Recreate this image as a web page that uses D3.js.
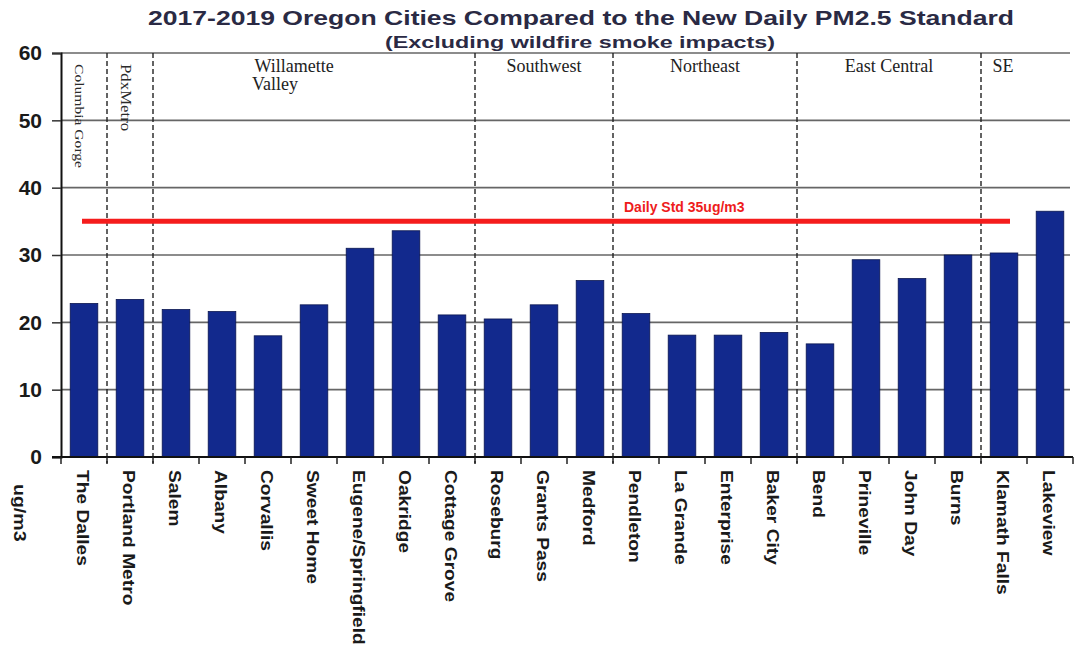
<!DOCTYPE html>
<html>
<head>
<meta charset="utf-8">
<script src="https://cdn.jsdelivr.net/npm/d3@7"></script>
<style>
  body { margin: 0; background: #fff; }
  svg { display: block; }
</style>
</head>
<body>
<div id="chart"></div>
<script>
const cities = ["The Dalles", "Portland Metro", "Salem", "Albany", "Corvallis", "Sweet Home",
  "Eugene/Springfield", "Oakridge", "Cottage Grove", "Roseburg", "Grants Pass", "Medford",
  "Pendleton", "La Grande", "Enterprise", "Baker City", "Bend", "Prineville", "John Day",
  "Burns", "Klamath Falls", "Lakeview"]
const pm25 = [22.8, 23.4, 21.9, 21.6, 18.0, 22.6, 31.0, 33.6, 21.1, 20.5, 22.6, 26.2,
  21.3, 18.1, 18.1, 18.5, 16.8, 29.3, 26.5, 30.0, 30.3, 36.5]
const yTicks = [0, 10, 20, 30, 40, 50, 60]

// regions: first and last city index of each group
const regions = [
  { name: "Columbia Gorge", from: 0, to: 0, vertical: true },
  { name: "PdxMetro", from: 1, to: 1, vertical: true },
  { name: "Willamette|Valley", from: 2, to: 8 },
  { name: "Southwest", from: 9, to: 11 },
  { name: "Northeast", from: 12, to: 15 },
  { name: "East Central", from: 16, to: 19 },
  { name: "SE", from: 20, to: 21 }
]
const dailyStd = 35
const stdLabel = "Daily Std 35ug/m3"
const stdFrom = "The Dalles", stdTo = "Klamath Falls"

const fullwidth = 1076, fullheight = 651
const margin = { top: 53, right: 3, bottom: 194, left: 61 }

const svg = d3.select("#chart").append("svg")
  .attr("width", fullwidth)
  .attr("height", fullheight)

const x = d3.scaleBand()
  .domain(cities)
  .range([margin.left, fullwidth - margin.right])
  .paddingInner(0.4)
  .paddingOuter(0.2)
const y = d3.scaleLinear()
  .domain([0, 60])
  .range([fullheight - margin.bottom, margin.top])

const step = x.step()
const bandStart = i => x(cities[i]) - step * 0.2   // left edge of the category slot

// title
svg.append("text")
  .attr("x", 581).attr("y", 25)
  .attr("text-anchor", "middle")
  .style("font", "bold 20px 'Liberation Sans', Arial, sans-serif")
  .style("fill", "#2a2a44")
  .attr("textLength", 866)
  .attr("lengthAdjust", "spacingAndGlyphs")
  .text("2017-2019 Oregon Cities Compared to the New Daily PM2.5 Standard")
svg.append("text")
  .attr("x", 580).attr("y", 48)
  .attr("text-anchor", "middle")
  .style("font", "bold 16px 'Liberation Sans', Arial, sans-serif")
  .style("fill", "#2a2a44")
  .attr("textLength", 390)
  .attr("lengthAdjust", "spacingAndGlyphs")
  .text("(Excluding wildfire smoke impacts)")

// gridlines
svg.append("g")
  .selectAll("line")
  .data(yTicks.filter(d => d > 0))
  .join("line")
  .attr("x1", margin.left).attr("x2", fullwidth - 6)
  .attr("y1", d => y(d)).attr("y2", d => y(d))
  .attr("stroke", "#666")
  .attr("stroke-width", 1.6)

// y axis
const yAxis = svg.append("g")
  .attr("transform", `translate(${margin.left},0)`)
  .call(d3.axisLeft(y).tickValues(yTicks).tickSize(9).tickPadding(10))
yAxis.select(".domain").attr("stroke", "#111").attr("stroke-width", 2)
yAxis.selectAll(".tick line").attr("stroke", "#333").attr("stroke-width", 1.5)
yAxis.selectAll(".tick text")
  .style("font", "bold 21px 'Liberation Sans', Arial, sans-serif")
  .style("fill", "#1a1a1a")

// bars
svg.append("g")
  .selectAll("rect")
  .data(cities)
  .join("rect")
  .attr("x", d => x(d))
  .attr("width", x.bandwidth())
  .attr("y", (d, i) => y(pm25[i]))
  .attr("height", (d, i) => y(0) - y(pm25[i]))
  .attr("fill", "#12298d")
  .attr("stroke", "#0a1650")
  .attr("stroke-width", 0.8)

// region dividers (dashed)
const dividers = regions.slice(1).map(r => bandStart(r.from))
svg.append("g")
  .selectAll("line")
  .data(dividers)
  .join("line")
  .attr("x1", d => d).attr("x2", d => d)
  .attr("y1", y(60)).attr("y2", y(0) + 6)
  .attr("stroke", "#222")
  .attr("stroke-width", 1.4)
  .attr("stroke-dasharray", "5,3")

// x axis with ticks at slot boundaries
const xAxisY = y(0)
svg.append("line")
  .attr("x1", margin.left - 9).attr("x2", fullwidth - margin.right)
  .attr("y1", xAxisY).attr("y2", xAxisY)
  .attr("stroke", "#111").attr("stroke-width", 2)
svg.append("g")
  .selectAll("line")
  .data(d3.range(cities.length + 1))
  .join("line")
  .attr("x1", i => margin.left + i * step).attr("x2", i => margin.left + i * step)
  .attr("y1", xAxisY).attr("y2", xAxisY + 7)
  .attr("stroke", "#222").attr("stroke-width", 1.5)

// category labels, rotated to read top-to-bottom, stretched along the text like the original
svg.append("g")
  .selectAll("text")
  .data(cities)
  .join("text")
  .attr("transform", d => `translate(${x(d) + x.bandwidth() / 2 - 7},${xAxisY + 13}) rotate(90) scale(1.2,1)`)
  .style("font", "bold 16px 'Liberation Sans', Arial, sans-serif")
  .style("fill", "#1a1a1a")
  .text(d => d)

// axis title
svg.append("text")
  .attr("transform", `translate(14,${xAxisY + 27}) rotate(90) scale(1.15,1)`)
  .style("font", "bold 17px 'Liberation Sans', Arial, sans-serif")
  .style("fill", "#1a1a1a")
  .text("ug/m3")

// region labels
const labelShift = { "Willamette|Valley": -20, "SE": -24 }
regions.forEach(r => {
  const left = bandStart(r.from)
  const right = bandStart(r.to) + step
  const cx = (left + right) / 2
  if (r.vertical) {
    svg.append("text")
      .attr("transform", `translate(${cx - 9},${y(60) + 11}) rotate(90) scale(1.2,1)`)
      .style("font", r.from === 0 ? "13px 'Liberation Serif', 'Times New Roman', serif"
        : "14px 'Liberation Serif', 'Times New Roman', serif")
      .style("fill", "#2a2a2a")
      .text(r.name)
  } else {
    const lines = r.name.split("|")
    const t = svg.append("text")
      .attr("y", y(60) + 19)
      .attr("text-anchor", "middle")
      .style("font", "18px 'Liberation Serif', 'Times New Roman', serif")
      .style("fill", "#222")
    lines.forEach((l, k) => {
      t.append("tspan")
        .attr("x", cx + (labelShift[r.name] || 0) - (k > 0 ? 19 : 0))
        .attr("dy", k === 0 ? 0 : 18)
        .text(l)
    })
  }
})

// daily standard line
svg.append("line")
  .attr("x1", x(stdFrom) + x.bandwidth() / 2 - 2)
  .attr("x2", x(stdTo) + x.bandwidth() / 2 + 6)
  .attr("y1", y(dailyStd)).attr("y2", y(dailyStd))
  .attr("stroke", "#f51c1c")
  .attr("stroke-width", 5)
svg.append("text")
  .attr("x", 624).attr("y", y(dailyStd) - 9)
  .style("font", "bold 14px 'Liberation Sans', Arial, sans-serif")
  .style("fill", "#ee1c1c")
  .text(stdLabel)
</script>
</body>
</html>
